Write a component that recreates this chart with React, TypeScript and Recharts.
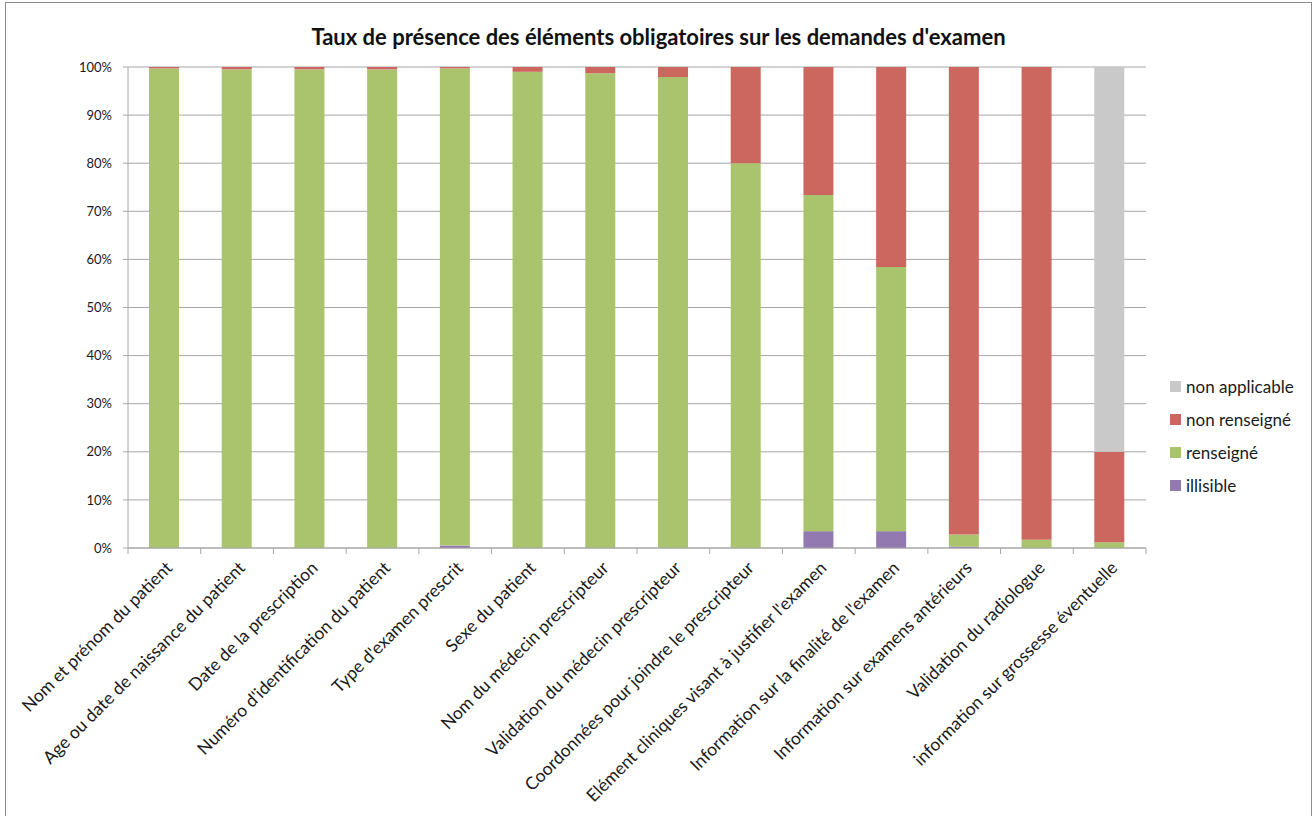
import { BarChart, Bar, XAxis, YAxis, CartesianGrid, Legend } from "recharts"

const categories = [
  "Nom et prénom du patient",
  "Age ou date de naissance du patient",
  "Date de la prescription",
  "Numéro d'identification du patient",
  "Type d'examen prescrit",
  "Sexe du patient",
  "Nom du médecin prescripteur",
  "Validation du médecin prescripteur",
  "Coordonnées pour joindre le prescripteur",
  "Elément cliniques visant à  justifier l'examen",
  "Information sur la finalité de l'examen",
  "Information sur examens antérieurs",
  "Validation du radiologue",
  "information sur grossesse éventuelle",
]

const illisible = [0, 0, 0, 0, 0.5, 0, 0, 0, 0, 3.5, 3.5, 0.3, 0, 0]
const renseigne = [99.7, 99.5, 99.5, 99.5, 99.2, 99.0, 98.7, 97.9, 80.0, 69.9, 54.9, 2.5, 1.7, 1.2]
const nonRenseigne = [0.3, 0.5, 0.5, 0.5, 0.3, 1.0, 1.3, 2.1, 20.0, 26.6, 41.6, 97.2, 98.3, 18.8]
const nonApplicable = [0, 0, 0, 0, 0, 0, 0, 0, 0, 0, 0, 0, 0, 80.0]

const yTicks = [0, 10, 20, 30, 40, 50, 60, 70, 80, 90, 100]
const boundaryTicks = [0, 1, 2, 3, 4, 5, 6, 7, 8, 9, 10, 11, 12, 13, 14]

const series = [
  { key: "illisible", label: "illisible", color: "#9279B0" },
  { key: "renseigne", label: "renseigné", color: "#AAC46D" },
  { key: "nonRenseigne", label: "non renseigné", color: "#CC6760" },
  { key: "nonApplicable", label: "non applicable", color: "#C9C9C9" },
]

const data = categories.map((name, i) => ({
  name,
  idx: i + 0.5,
  illisible: illisible[i],
  renseigne: renseigne[i],
  nonRenseigne: nonRenseigne[i],
  nonApplicable: nonApplicable[i],
}))

const FONT = "Lato, 'Open Sans', sans-serif"

const CategoryTick = (props: any) => {
  const { x, y, payload } = props
  return (
    <g transform={`translate(${x + 9},${y + 12})`}>
      <text transform="rotate(-45)" textAnchor="end" fontSize={17.5} fill="#1a1a1a" fontFamily={FONT}>
        {payload.value}
      </text>
    </g>
  )
}

const LegendBox = () => (
  <div style={{ paddingLeft: 24, fontFamily: FONT }}>
    {[...series].reverse().map((s) => (
      <div key={s.key} style={{ display: "flex", alignItems: "center", height: 33, fontSize: 17, color: "#1a1a1a" }}>
        <span style={{ width: 11, height: 11, background: s.color, marginRight: 5, display: "inline-block" }} />
        {s.label}
      </div>
    ))}
  </div>
)

export default function App() {
  return (
    <div
      style={{
        position: "absolute",
        left: 5,
        top: 2,
        width: 1305,
        height: 813,
        border: "1px solid #8c8c8c",
        borderBottom: "none",
        background: "#fff",
        fontFamily: FONT,
      }}
    >
      <div
        style={{
          position: "absolute",
          top: 20,
          left: 0,
          width: "100%",
          textAlign: "center",
          fontWeight: 700,
          fontSize: 22,
          color: "#111",
        }}
      >
        Taux de présence des éléments obligatoires sur les demandes d'examen
      </div>
      <BarChart
        width={1305}
        height={812}
        data={data}
        margin={{ top: 64, right: 15, bottom: 17, left: 62 }}
      >
        <CartesianGrid horizontal vertical={false} stroke="#a6a6a6" xAxisId="cat" />
        <XAxis
          xAxisId="cat"
          dataKey="name"
          interval={0}
          height={249}
          tickLine={false}
          axisLine={false}
          tick={<CategoryTick />}
        />
        <XAxis
          xAxisId="base"
          dataKey="idx"
          type="number"
          domain={[0, 14]}
          allowDataOverflow
          ticks={boundaryTicks}
          tickFormatter={() => ""}
          tickSize={6}
          tickLine={{ stroke: "#a6a6a6" }}
          axisLine={{ stroke: "#a6a6a6" }}
          height={1}
        />
        <YAxis
          width={60}
          domain={[0, 100]}
          ticks={yTicks}
          allowDataOverflow
          tickFormatter={(v) => `${v}%`}
          tickSize={5}
          tickMargin={11}
          stroke="#a6a6a6"
          tick={{ fill: "#1a1a1a", fontSize: 13, fontFamily: FONT }}
        />
        <Legend
          layout="vertical"
          align="right"
          verticalAlign="top"
          width={150}
          wrapperStyle={{ top: 367 }}
          content={<LegendBox />}
        />
        {series.map((s) => (
          <Bar
            key={s.key}
            dataKey={s.key}
            name={s.label}
            stackId="a"
            xAxisId="cat"
            fill={s.color}
            barSize={30}
            isAnimationActive={false}
          />
        ))}
      </BarChart>
    </div>
  )
}
